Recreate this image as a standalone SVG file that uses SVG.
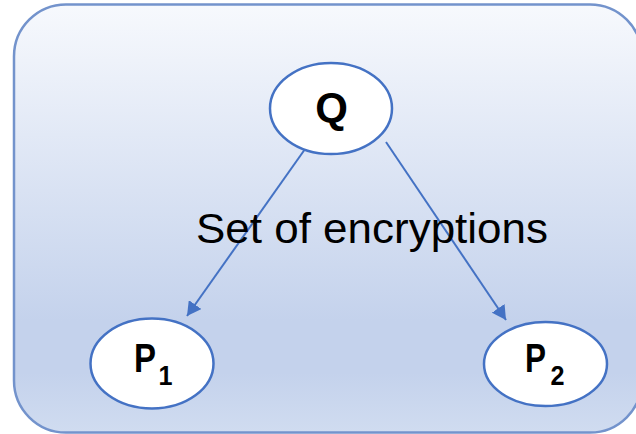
<svg xmlns="http://www.w3.org/2000/svg" width="636" height="434" viewBox="0 0 636 434">
  <defs>
    <linearGradient id="panelFill" x1="0" y1="0" x2="0" y2="1">
      <stop offset="0" stop-color="#f7f9fd"/>
      <stop offset="0.74" stop-color="#c4d2ec"/>
      <stop offset="0.86" stop-color="#c4d2ec"/>
      <stop offset="1" stop-color="#d0dcf0"/>
    </linearGradient>
    <marker id="arrowHead" viewBox="0 0 10 11" refX="10" refY="5.5" markerWidth="7" markerHeight="7.7" orient="auto" markerUnits="strokeWidth">
      <path d="M0,0 L10,5.5 L0,11 z" fill="#4472c4"/>
    </marker>
  </defs>
  <style>
    .node ellipse { fill: #ffffff; stroke: #4472c4; stroke-width: 2.5; }
    .node text { font-family: "Liberation Sans", Arial, sans-serif; font-weight: bold; fill: #000000; }
    .edge { stroke: #4472c4; stroke-width: 2; fill: none; marker-end: url(#arrowHead); }
    .label { font-family: "Liberation Sans", Arial, sans-serif; font-size: 42px; fill: #000000; }
  </style>

  <!-- background panel -->
  <rect x="14" y="4.5" width="628" height="428" rx="52" ry="52" fill="url(#panelFill)" stroke="#7393cc" stroke-width="2.5"/>

  <!-- connectors -->
  <g id="connectors">
    <line class="edge" x1="306.5" y1="147" x2="187" y2="316"/>
    <line class="edge" x1="386" y1="142" x2="506" y2="320"/>
  </g>

  <text class="label" x="196" y="243" textLength="352" lengthAdjust="spacingAndGlyphs">Set of encryptions</text>

  <g id="node-Q" class="node">
    <ellipse cx="331" cy="108.5" rx="61" ry="45.5"/>
    <text x="331.5" y="122" font-size="42" text-anchor="middle">Q</text>
  </g>

  <g id="node-P1" class="node">
    <ellipse cx="152" cy="363.5" rx="61.5" ry="45"/>
    <text x="134" y="372" font-size="40" textLength="22" lengthAdjust="spacingAndGlyphs">P</text>
    <text x="158.5" y="385" font-size="28" textLength="14" lengthAdjust="spacingAndGlyphs">1</text>
  </g>

  <g id="node-P2" class="node">
    <ellipse cx="545.5" cy="364" rx="61.5" ry="42"/>
    <text x="525" y="372" font-size="40" textLength="21" lengthAdjust="spacingAndGlyphs">P</text>
    <text x="550.5" y="385" font-size="28" textLength="14" lengthAdjust="spacingAndGlyphs">2</text>
  </g>
</svg>
